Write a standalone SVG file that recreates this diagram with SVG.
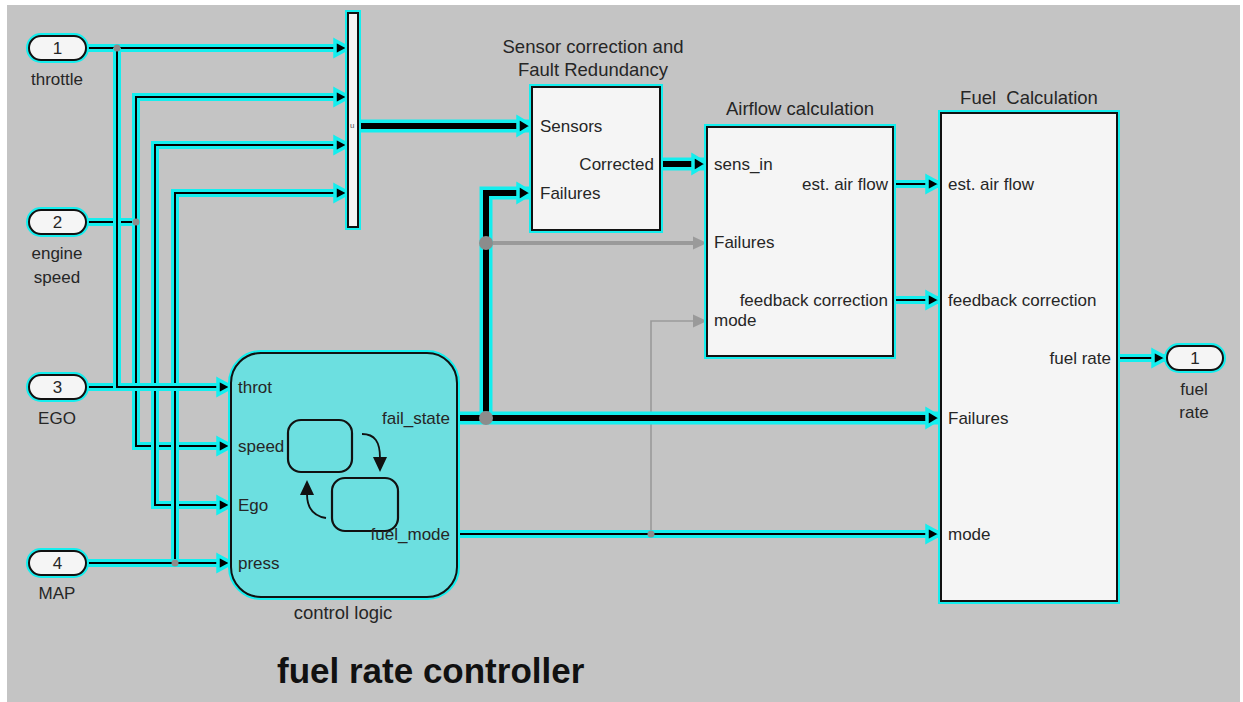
<svg xmlns="http://www.w3.org/2000/svg" width="1243" height="702" viewBox="0 0 1243 702">
<style>
.t{font-family:"Liberation Sans",Arial,sans-serif;font-size:17px;fill:#262626}
.tt{font-family:"Liberation Sans",Arial,sans-serif;font-size:18.5px;fill:#262626}
.e{text-anchor:end}
.m{text-anchor:middle}
.hl{fill:none;stroke:#14eeee;stroke-width:6}
.blk{fill:#f5f5f5;stroke:#111;stroke-width:2}
.wc{fill:none;stroke:#14eeee;stroke-width:8;stroke-linejoin:miter}
.wct{fill:none;stroke:#14eeee;stroke-width:13;stroke-linejoin:miter}
.wb{fill:none;stroke:#000;stroke-width:2}
.wbt{fill:none;stroke:#000;stroke-width:6}
.arr{marker-end:url(#ah)}
.arrt{marker-end:url(#aht)}
.gl{fill:none;stroke:#9a9a9a}
.dot{fill:#8c8c8c}
</style>
<defs>
<marker id="ah" markerUnits="userSpaceOnUse" markerWidth="26" markerHeight="26" viewBox="0 0 26 26" refX="6" refY="13" orient="auto">
<path d="M3,5.5 L17,13 L3,20.5 z" fill="#000" stroke="#14eeee" stroke-width="3.5" stroke-linejoin="miter"/>
</marker>
<marker id="aht" markerUnits="userSpaceOnUse" markerWidth="26" markerHeight="28" viewBox="0 0 26 28" refX="6" refY="14" orient="auto">
<path d="M3,5.5 L17,14 L3,22.5 z" fill="#000" stroke="#14eeee" stroke-width="3.5" stroke-linejoin="miter"/>
</marker>
<marker id="ag" markerUnits="userSpaceOnUse" markerWidth="24" markerHeight="24" viewBox="0 0 24 24" refX="6" refY="12" orient="auto">
<path d="M3,5.5 L17,12 L3,18.5 z" fill="#9a9a9a"/>
</marker>
</defs>
<rect x="0" y="0" width="1243" height="702" fill="#ffffff"/>
<rect x="7" y="5" width="1233" height="697" fill="#c4c4c4"/>

<g id="connectors">
<path class="wc" d="M86,222 H136"/><path class="wb" d="M86,222 H136"/>
<path class="wc" d="M86,387 H155"/><path class="wb" d="M86,387 H155"/>
<path class="wc" d="M136,222 V97 H348"/><path class="wb arr" d="M136,222 V97 H338"/>
<path class="wc" d="M136,222 V446 H231"/><path class="wb arr" d="M136,222 V446 H221"/>
<path class="wc" d="M155,387 V145 H348"/><path class="wb arr" d="M155,387 V145 H338"/>
<path class="wc" d="M155,387 V505 H231"/><path class="wb arr" d="M155,387 V505 H221"/>
<path class="wc" d="M175,563 V193 H348"/><path class="wb arr" d="M175,563 V193 H338"/>
<path class="wc" d="M86,563 H231"/><path class="wb arr" d="M86,563 H221"/>
<path class="wc" d="M86,48 H348"/><path class="wb arr" d="M86,48 H338"/>
<path class="wc" d="M117,48 V387 H231"/><path class="wb arr" d="M117,48 V387 H221"/>
<path class="gl" stroke-width="1.6" d="M651,534 V321 H696" marker-end="url(#ag)"/>
<path class="wct" d="M358,126 H532"/><path class="wbt arrt" d="M358,126 H521"/>
<path class="wct" d="M660,164 H707"/><path class="wbt arrt" d="M660,164 H696"/>
<path class="gl" stroke-width="4" d="M486,243 H696" marker-end="url(#ag)"/>
<path class="wct" d="M486,418 V193 H532"/><path class="wbt arrt" d="M486,418 V193 H521"/>
<path class="wct" d="M457,418 H941"/><path class="wbt arrt" d="M457,418 H930"/>
<path class="wc" d="M457,534 H941"/><path class="wb arr" d="M457,534 H930"/>
<path class="wc" d="M893,184 H941"/><path class="wb arr" d="M893,184 H930"/>
<path class="wc" d="M893,300 H941"/><path class="wb arr" d="M893,300 H930"/>
<path class="wc" d="M1117,358 H1167"/><path class="wb arr" d="M1117,358 H1156"/>
<circle class="dot" cx="117" cy="48" r="3.5"/>
<circle class="dot" cx="136" cy="222" r="3.5"/>
<circle class="dot" cx="175" cy="563" r="3.5"/>
<circle class="dot" cx="651" cy="534" r="3.5"/>
<circle class="dot" cx="486" cy="243" r="7"/>
<circle class="dot" cx="486" cy="418" r="7"/>
</g>

<g id="in1">
<rect class="hl" x="29" y="36" width="57" height="24" rx="12"/>
<rect class="blk" x="29" y="36" width="57" height="24" rx="12"/>
<text class="t m" x="57.5" y="54">1</text>
<text class="t m" x="57" y="85">throttle</text>
</g>
<g id="in2">
<rect class="hl" x="29" y="210" width="57" height="24" rx="12"/>
<rect class="blk" x="29" y="210" width="57" height="24" rx="12"/>
<text class="t m" x="57.5" y="228">2</text>
<text class="t m" x="57" y="259">engine</text>
<text class="t m" x="57" y="283">speed</text>
</g>
<g id="in3">
<rect class="hl" x="29" y="375" width="57" height="24" rx="12"/>
<rect class="blk" x="29" y="375" width="57" height="24" rx="12"/>
<text class="t m" x="57.5" y="393">3</text>
<text class="t m" x="57" y="424">EGO</text>
</g>
<g id="in4">
<rect class="hl" x="29" y="551" width="57" height="24" rx="12"/>
<rect class="blk" x="29" y="551" width="57" height="24" rx="12"/>
<text class="t m" x="57.5" y="569">4</text>
<text class="t m" x="57" y="599">MAP</text>
</g>

<g id="mux">
<rect class="hl" x="348" y="13" width="10" height="214"/>
<rect class="blk" x="348" y="13" width="10" height="214"/>
<text x="350" y="128" font-family="Liberation Sans,Arial,sans-serif" font-size="8" fill="#555">u</text>
</g>

<g id="sensor">
<rect class="hl" x="532" y="87" width="128" height="143"/>
<rect class="blk" x="532" y="87" width="128" height="143"/>
<text class="tt m" x="593" y="53">Sensor correction and</text>
<text class="tt m" x="593" y="76">Fault Redundancy</text>
<text class="t" x="540" y="132">Sensors</text>
<text class="t e" x="654" y="170">Corrected</text>
<text class="t" x="540" y="199">Failures</text>
</g>

<g id="airflow">
<rect class="hl" x="707" y="127" width="186" height="229"/>
<rect class="blk" x="707" y="127" width="186" height="229"/>
<text class="tt m" x="800" y="115">Airflow calculation</text>
<text class="t" x="714" y="170">sens_in</text>
<text class="t e" x="888" y="190">est. air flow</text>
<text class="t" x="714" y="248">Failures</text>
<text class="t e" x="888" y="306">feedback correction</text>
<text class="t" x="714" y="326">mode</text>
</g>

<g id="fuelcalc">
<rect class="hl" x="941" y="113" width="176" height="488"/>
<rect class="blk" x="941" y="113" width="176" height="488"/>
<text class="tt m" x="1029" y="104" xml:space="preserve">Fuel  Calculation</text>
<text class="t" x="948" y="190">est. air flow</text>
<text class="t" x="948" y="306">feedback correction</text>
<text class="t e" x="1111" y="364">fuel rate</text>
<text class="t" x="948" y="424">Failures</text>
<text class="t" x="948" y="540">mode</text>
</g>

<g id="out1">
<rect class="hl" x="1167" y="346" width="56" height="24" rx="12"/>
<rect class="blk" x="1167" y="346" width="56" height="24" rx="12"/>
<text class="t m" x="1195" y="364">1</text>
<text class="t m" x="1194" y="395">fuel</text>
<text class="t m" x="1194" y="418">rate</text>
</g>

<g id="controllogic">
<rect class="hl" x="231" y="353" width="226" height="244" rx="30"/>
<rect x="231" y="353" width="226" height="244" rx="30" fill="#6cdfe0" stroke="#111" stroke-width="2"/>
<rect x="288" y="420" width="64" height="52" rx="13" fill="none" stroke="#111" stroke-width="2.2"/>
<rect x="332" y="478" width="66" height="53" rx="13" fill="none" stroke="#111" stroke-width="2.2"/>
<path d="M362,434 C375,434 380,442 380,458" fill="none" stroke="#111" stroke-width="1.8"/>
<path d="M373,457 L387,457 L380,472 z" fill="#111"/>
<path d="M326,518 C313,516 307,508 307,494" fill="none" stroke="#111" stroke-width="1.8"/>
<path d="M300,495 L314,495 L307,480 z" fill="#111"/>
<text class="t" x="238" y="393">throt</text>
<text class="t" x="238" y="452">speed</text>
<text class="t" x="238" y="511">Ego</text>
<text class="t" x="238" y="569">press</text>
<text class="t e" x="450" y="424">fail_state</text>
<text class="t e" x="450" y="540">fuel_mode</text>
<text class="tt m" x="343" y="619">control logic</text>
</g>

<text x="277" y="683" font-family="Liberation Sans,Arial,sans-serif" font-size="35" font-weight="bold" fill="#111">fuel rate controller</text>
</svg>
